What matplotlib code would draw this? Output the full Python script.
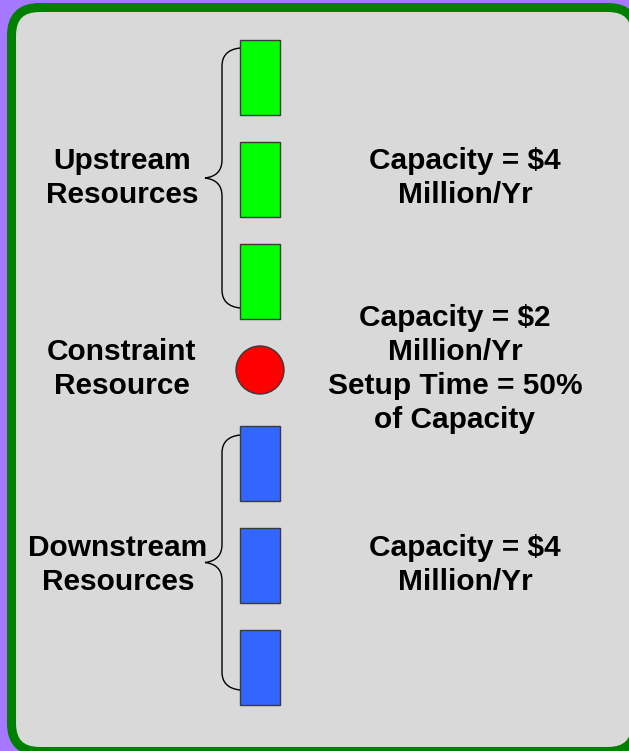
import matplotlib
matplotlib.use("Agg")
import matplotlib.pyplot as plt
from matplotlib.patches import FancyBboxPatch, Rectangle, Circle, PathPatch
from matplotlib.path import Path

# -- content ------------------------------------------------------------------
left_labels = ["Upstream\nResources", "Constraint\nResource", "Downstream\nResources"]
right_labels = [
    "Capacity = $4\nMillion/Yr",
    "Capacity = $2\nMillion/Yr\nSetup Time = 50%\nof Capacity",
    "Capacity = $4\nMillion/Yr",
]
upstream_tops = [40, 142, 244]
downstream_tops = [426, 528, 630]

W, H = 629, 751
fig = plt.figure(figsize=(W / 100, H / 100), dpi=100)
fig.patch.set_facecolor("#A578FF")
ax = fig.add_axes([0, 0, 1, 1])
ax.set_xlim(0, W)
ax.set_ylim(H, 0)
ax.axis("off")

# rounded frame (runs off the right and bottom edges)
ax.add_patch(FancyBboxPatch((11.5, 7.5), 624.5, 744,
                            boxstyle="round,pad=0,rounding_size=28",
                            facecolor="#D9D9D9", edgecolor="#008000", linewidth=6.5))


def brace(y0, y1, x_right=240, x_mid=222, x_tip=205):
    ym = (y0 + y1) / 2
    verts = [
        (x_right, y0), (x_mid, y0 + 2), (x_mid, y0 + 18),
        (x_mid, ym - 18),
        (x_mid, ym - 2), (x_tip, ym),
        (x_mid, ym + 2), (x_mid, ym + 18),
        (x_mid, y1 - 18),
        (x_mid, y1 - 2), (x_right, y1),
    ]
    codes = [Path.MOVETO, Path.CURVE3, Path.CURVE3, Path.LINETO,
             Path.CURVE3, Path.CURVE3, Path.CURVE3, Path.CURVE3,
             Path.LINETO, Path.CURVE3, Path.CURVE3]
    ax.add_patch(PathPatch(Path(verts, codes), facecolor="none",
                           edgecolor="black", linewidth=1.0))


for top in upstream_tops:
    ax.add_patch(Rectangle((240, top), 40, 75, facecolor="#00FF00",
                           edgecolor="#3A3A3A", linewidth=1.0))
for top in downstream_tops:
    ax.add_patch(Rectangle((240, top), 40, 75, facecolor="#3366FF",
                           edgecolor="#3A3A3A", linewidth=1.0))
ax.add_patch(Circle((260, 370), 24, facecolor="#FF0000",
                    edgecolor="#3A3A3A", linewidth=1.0))

brace(48, 308)
brace(435, 690)

font = dict(family="Liberation Sans", fontweight="bold", fontsize=21.5,
            ha="center", va="center", linespacing=1.27)
left_pos = [(122, 178), (122, 369), (118, 565)]
right_pos = [(465, 178), (455, 369), (465, 565)]
for (x, y), s in zip(left_pos, left_labels):
    ax.text(x, y, s, **font)
for (x, y), s in zip(right_pos, right_labels):
    ax.text(x, y, s, **font)

fig.savefig("out.png", dpi=100, facecolor=fig.get_facecolor())
